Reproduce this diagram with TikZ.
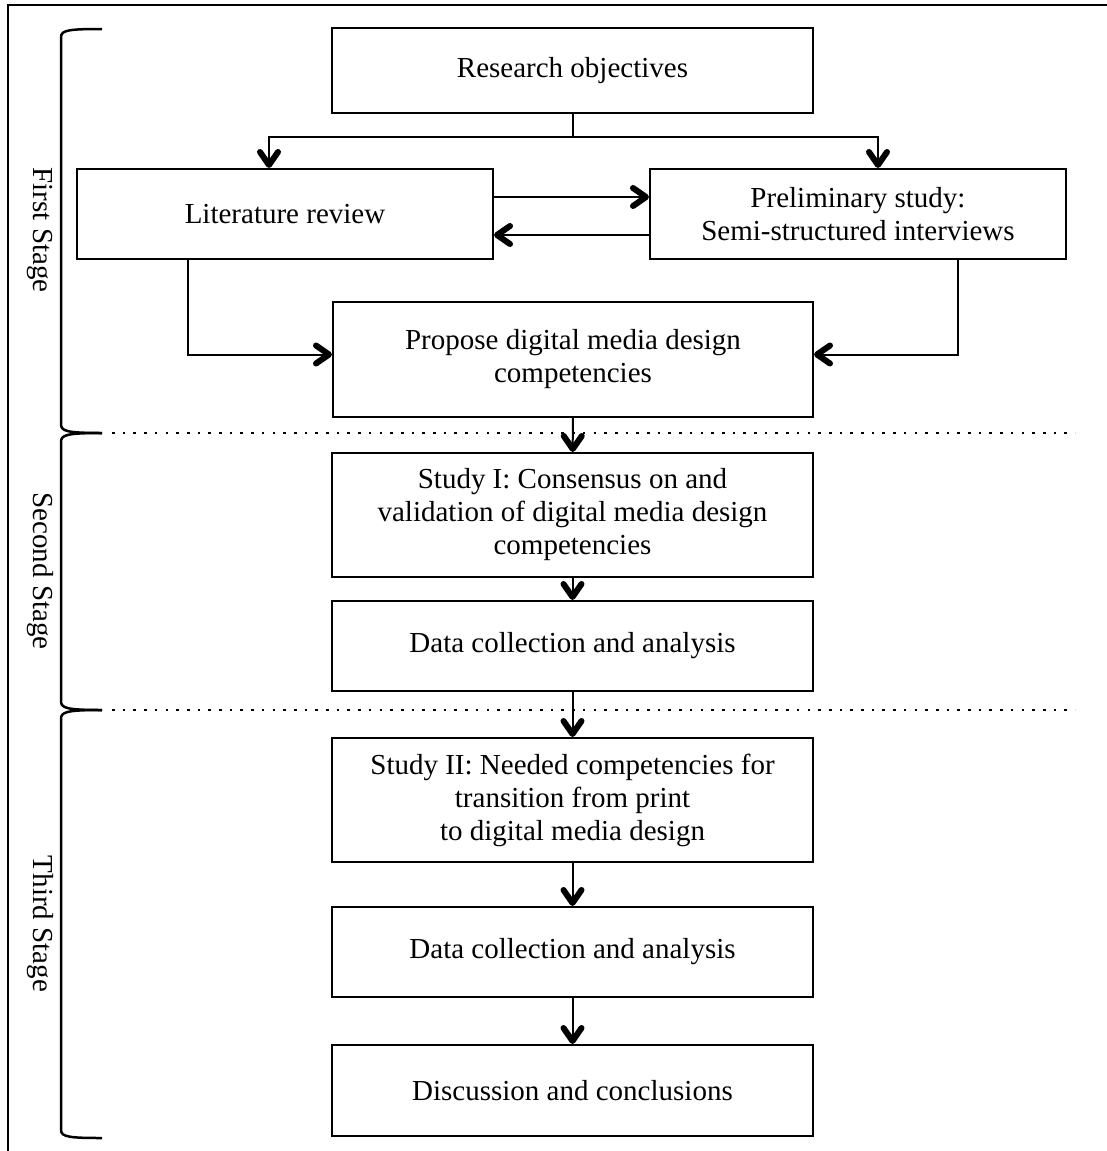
\documentclass[tikz,border=0pt]{standalone}
\usepackage{fontspec}
\setmainfont{Liberation Serif}
\usetikzlibrary{arrows.meta}

\begin{document}
\begin{tikzpicture}[
       x=1pt,y=-1pt,
       line width=2pt,
       font=\fontsize{29}{33}\selectfont,
       stap/.style={
         draw,
         rectangle,
         align=center,
         minimum width=481pt,
         minimum height=90pt,
         inner sep=4pt
       },
       pijl/.style={
         -{Straight Barb[length=13pt,width=18pt,line width=6pt 0 1,round]}
       },
       fase/.style={
         line width=2.5pt
       },
       scheiding/.style={
         line width=2.8pt,
         dash pattern=on 2.6pt off 8.1pt
       }
     ]

       \useasboundingbox (0,0) rectangle (1107,1151);
       \draw (8,1151) -- (8,5) -- (1107,5);

       % stages
       \draw[fase] (102,29) .. controls (70,29) and (61,30) .. (61,37) -- (61,424)
         .. controls (61,431) and (66,433) .. (102,433);
       \draw[fase] (102,433) .. controls (66,433) and (61,435) .. (61,442) -- (61,701)
         .. controls (61,708) and (66,710) .. (102,710);
       \draw[fase] (102,710) .. controls (66,710) and (61,712) .. (61,719) -- (61,1130)
         .. controls (61,1137) and (70,1138) .. (102,1138);
       \node (fase1) at (40,230) [rotate=-90]{First Stage};
       \node (fase2) at (40,571) [rotate=-90]{Second Stage};
       \node (fase3) at (40,924) [rotate=-90]{Third Stage};
       \draw[scheiding] (112,433) -- (1075,433);
       \draw[scheiding] (112,710) -- (1075,710);

       \node (obj) at (572.5,70.5) [stap,minimum height=85pt]{Research objectives};
       \node (lit) at (285,214) [stap,minimum width=416pt]{Literature review};
       \node (pre) at (858,214) [stap,minimum width=416pt]{Preliminary study:\\Semi-structured interviews};
       \node (prop) at (573,359.5) [stap,minimum width=480pt,minimum height=115pt]{Propose digital media design\\competencies};
       \node (s1) at (572.5,515) [stap,minimum height=124pt]{Study I: Consensus on and\\validation of digital media design\\competencies};
       \node (d1) at (572.5,646) [stap]{Data collection and analysis};
       \node (s2) at (572.5,800) [stap,minimum height=124pt]{Study II: Needed competencies for\\transition from print\\to digital media design};
       \node (d2) at (572.5,952) [stap]{Data collection and analysis};
       \node (disc) at (572.5,1090.5) [stap,minimum height=91pt]{Discussion and conclusions};

       \coordinate (split) at (572.5,137);

       \draw (obj.south) -- (split);
       \draw[pijl] (split) -| ([xshift=-16pt]lit.north);
       \draw[pijl] (split) -| ([xshift=20pt]pre.north);

       \draw[pijl] ([yshift=17pt]lit.east) -- ([yshift=17pt]pre.west);
       \draw[pijl] ([yshift=-21pt]pre.west) -- ([yshift=-21pt]lit.east);

       \draw[pijl] ([xshift=-97pt]lit.south) |- ([yshift=5pt]prop.west);
       \draw[pijl] ([xshift=100pt]pre.south) |- ([yshift=5pt]prop.east);

       \draw[pijl] (prop) -- (s1);
       \draw[pijl] (s1) -- (d1);
       \draw[pijl] (d1) -- (s2);
       \draw[pijl] (s2) -- (d2);
       \draw[pijl] (d2) -- (disc);

\end{tikzpicture}
\end{document}
